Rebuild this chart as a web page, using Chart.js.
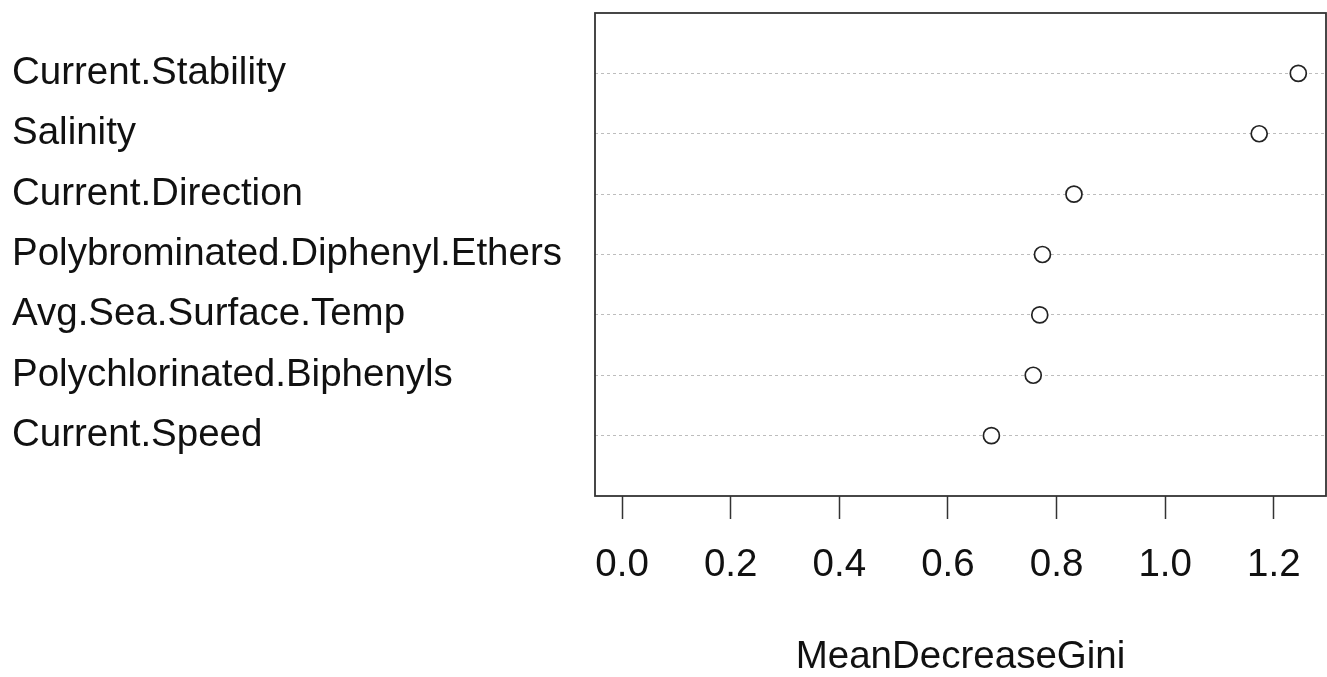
<!DOCTYPE html>
<html>
<head>
<meta charset="utf-8">
<script src="https://cdn.jsdelivr.net/npm/chart.js@4.4.1/dist/chart.umd.min.js"></script>
<style>
  html, body { margin: 0; padding: 0; background: #fff; }
  #wrap { width: 1327px; height: 677px; }
</style>
</head>
<body>
<div id="wrap"><canvas id="dotChart"></canvas></div>
<script>
// Variable importance (random forest), top row first
const variables = [
    'Current.Stability',
    'Salinity',
    'Current.Direction',
    'Polybrominated.Diphenyl.Ethers',
    'Avg.Sea.Surface.Temp',
    'Polychlorinated.Biphenyls',
    'Current.Speed'
];
const meanDecreaseGini = [1.245, 1.173, 0.832, 0.774, 0.769, 0.757, 0.680];
const xTicks = [0.0, 0.2, 0.4, 0.6, 0.8, 1.0, 1.2];

// dotchart puts the first label at the top: row n ... 1
const n = variables.length;
const points = meanDecreaseGini.map((v, i) => ({ x: v, y: n - i }));

const FONT = 'Liberation Sans, Arial, sans-serif';
const FSIZE = 38.5;

// draws the R style box round the plot region
const boxPlugin = {
    id: 'box',
    afterDraw(chart) {
        const a = chart.chartArea;
        const ctx = chart.ctx;
        ctx.save();
        ctx.strokeStyle = '#333';
        ctx.lineWidth = 1.8;
        ctx.strokeRect(a.left, a.top, a.right - a.left, a.bottom - a.top);
        ctx.restore();
    }
};

const config = {
    type: 'scatter',
    data: {
        datasets: [{
            label: 'MeanDecreaseGini',
            data: points,
            pointRadius: 8,
            pointHoverRadius: 8,
            pointBorderWidth: 1.7,
            borderColor: '#222',
            backgroundColor: '#fff',
            clip: false
        }]
    },
    options: {
        responsive: true,
        maintainAspectRatio: false,
        animation: false,
        layout: {
            autoPadding: false, // otherwise point radius is added on the right
            padding: { left: 12, top: 13, right: 1, bottom: 0 }
        },
        plugins: {
            legend: { display: false },
            tooltip: { enabled: false }
        },
        scales: {
            x: {
                type: 'linear',
                min: -0.0498,
                max: 1.296,
                afterBuildTicks: function(scale) {
                    scale.ticks = xTicks.map(v => ({ value: v }));
                },
                afterFit: function(scale) {
                    scale.height = 181;
                    scale.paddingLeft = 0;
                    scale.paddingRight = 0;
                },
                border: { display: false },
                grid: {
                    drawOnChartArea: false,
                    drawTicks: true,
                    tickLength: 23,
                    tickColor: '#333',
                    tickWidth: 1.5
                },
                ticks: {
                    padding: 23,
                    color: '#111',
                    font: { family: FONT, size: FSIZE },
                    maxRotation: 0,
                    autoSkip: false,
                    callback: function(value) { return Number(value).toFixed(1); }
                },
                title: {
                    display: true,
                    text: 'MeanDecreaseGini',
                    color: '#111',
                    font: { family: FONT, size: FSIZE, lineHeight: 1 },
                    padding: { top: 0, bottom: 0 }
                }
            },
            y: {
                type: 'linear',
                min: 0,
                max: n + 1,
                afterBuildTicks: function(scale) {
                    const t = [];
                    for (let k = 1; k <= n; k++) t.push({ value: k });
                    scale.ticks = t;
                },
                afterFit: function(scale) {
                    scale.width = 583;
                    scale.paddingTop = 0;
                    scale.paddingBottom = 0;
                },
                border: { display: false },
                grid: {
                    drawTicks: false,
                    color: '#bdbdbd',
                    lineWidth: 1
                },
                ticks: {
                    crossAlign: 'far',
                    padding: 0,
                    autoSkip: false,
                    color: '#111',
                    font: { family: FONT, size: FSIZE },
                    callback: function(value) { return variables[n - value]; }
                }
            }
        }
    },
    plugins: [boxPlugin]
};

// dotted guide lines like dotchart's lty = "dotted"
config.options.scales.y.border.dash = [3, 3];
config.options.scales.y.grid.borderDash = [3, 3];

const canvas = document.getElementById('dotChart');
var chart = new Chart(canvas, config);
</script>
</body>
</html>
